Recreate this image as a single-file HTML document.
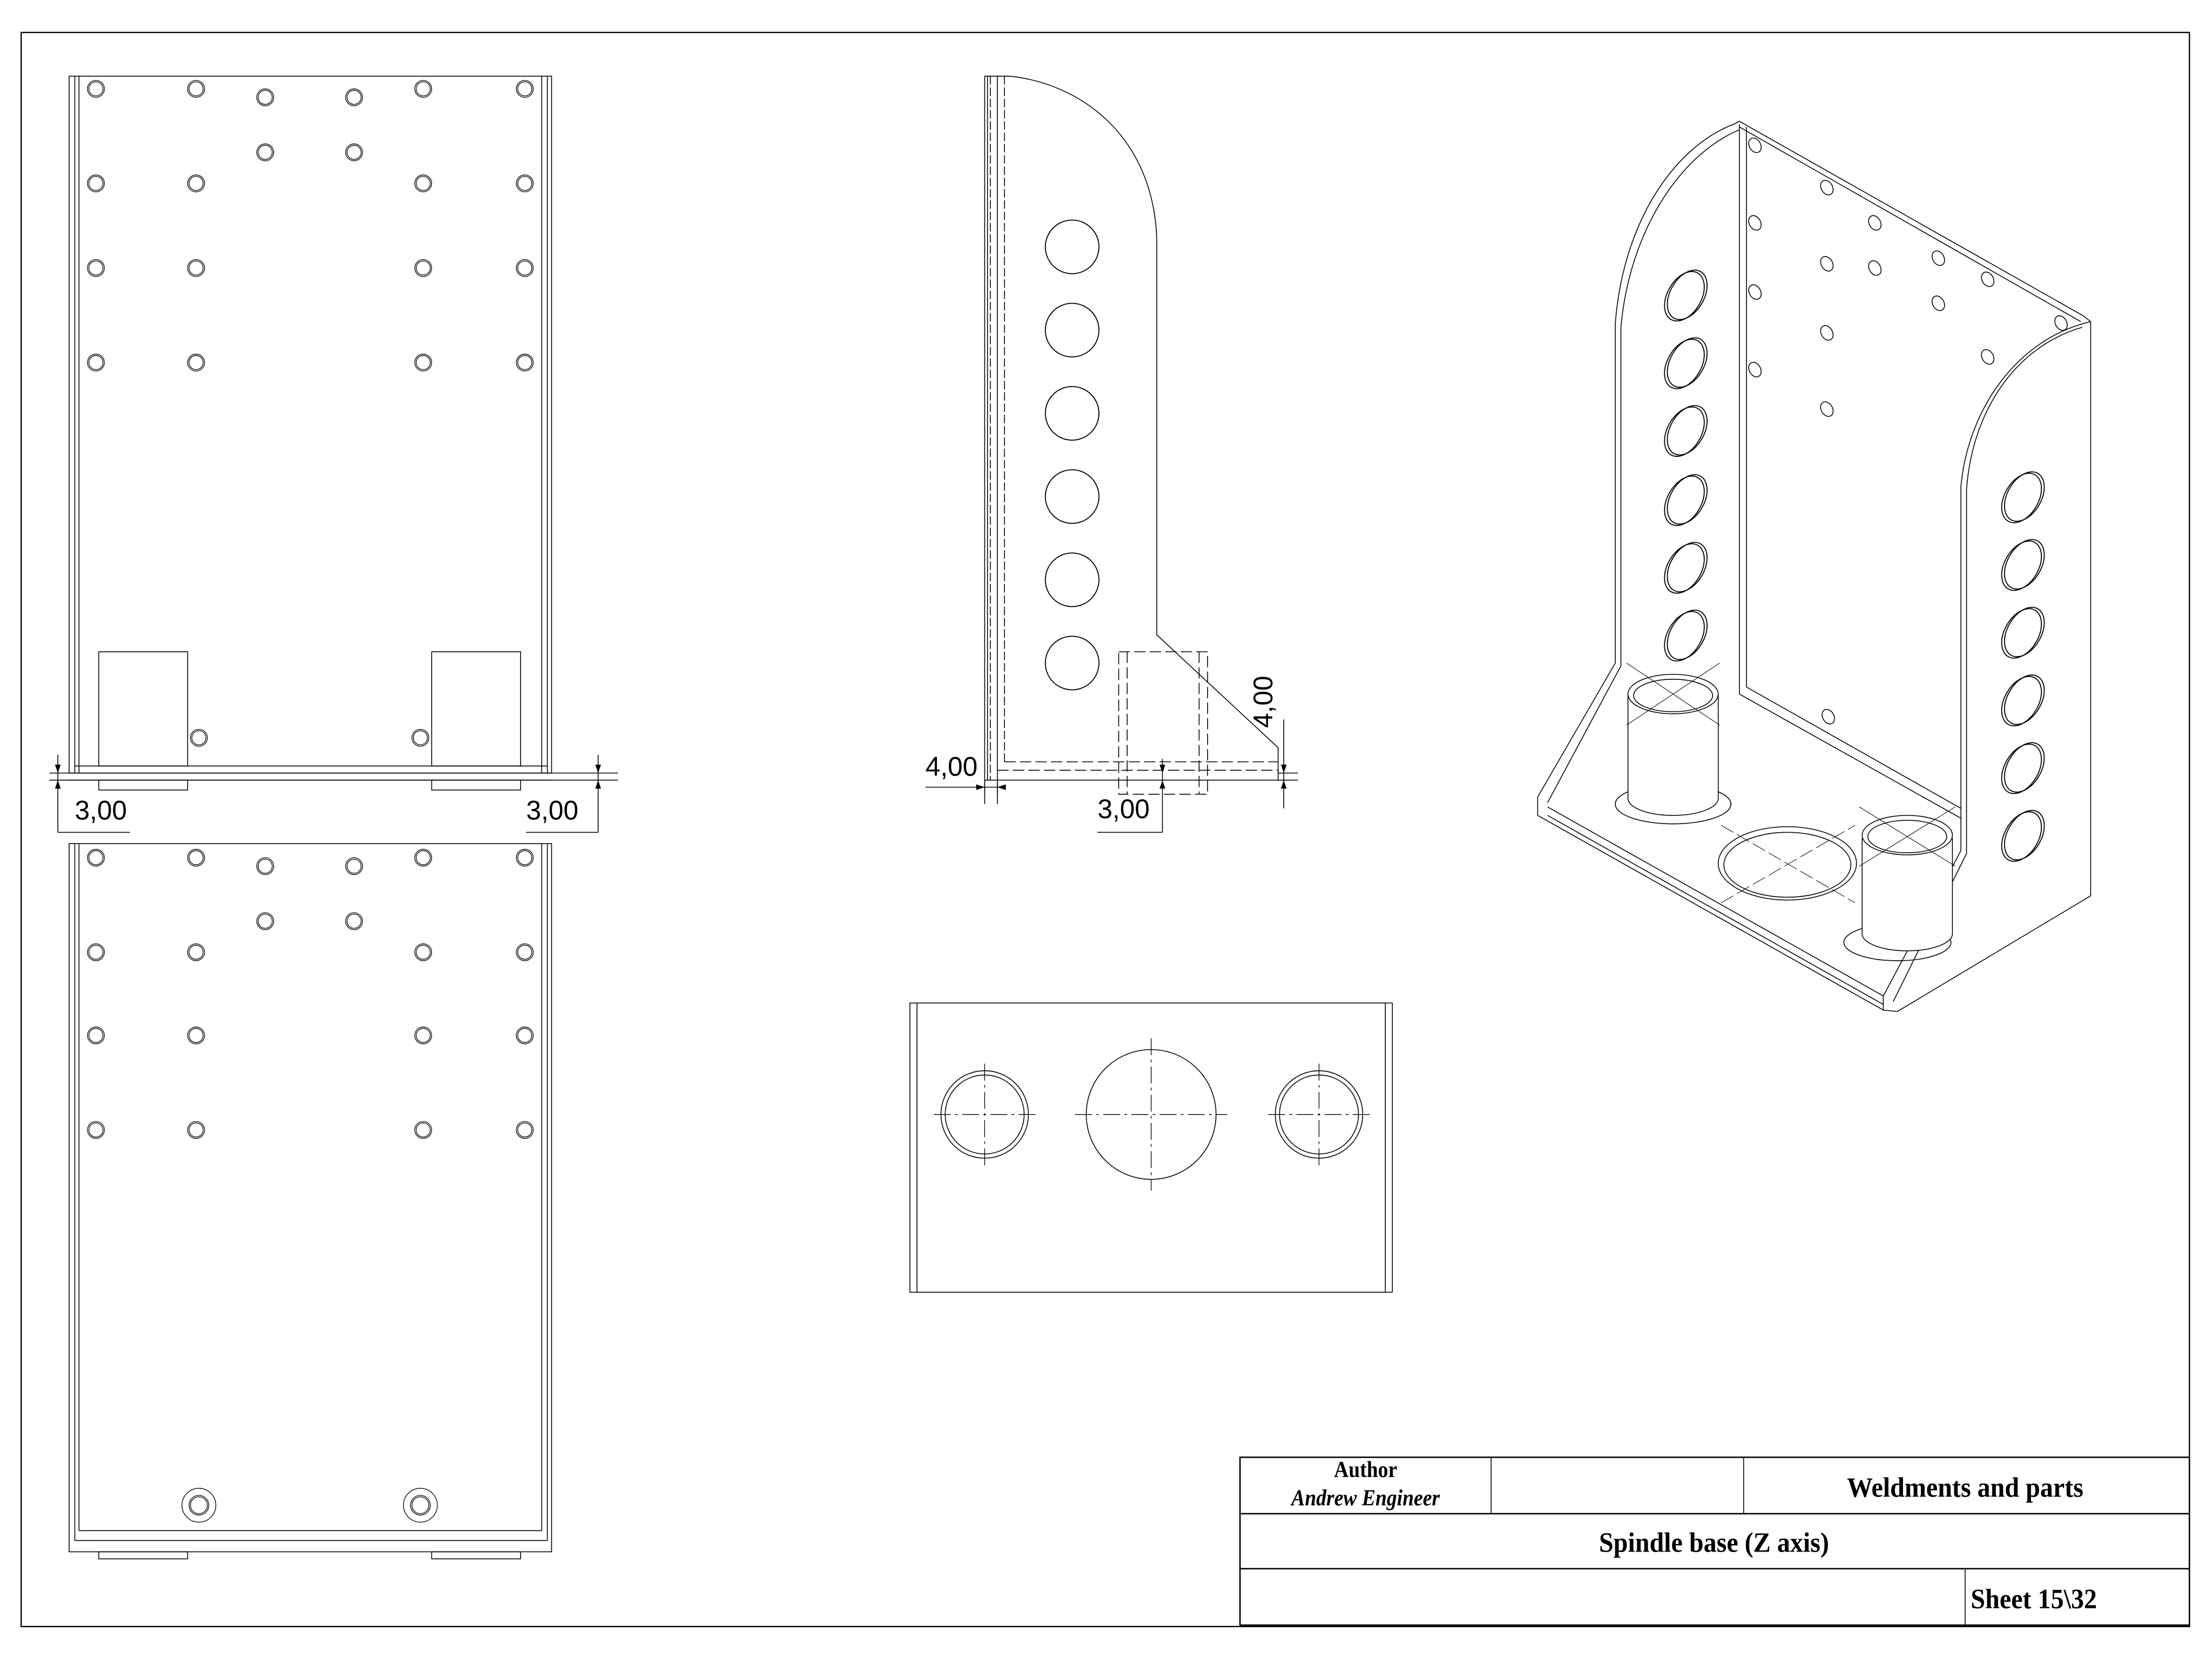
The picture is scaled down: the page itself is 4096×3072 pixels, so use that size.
<!DOCTYPE html>
<html><head><meta charset="utf-8"><style>
html,body{margin:0;padding:0;background:#fff;}
svg{display:block;}
text{font-family:"Liberation Sans",sans-serif;}
.s{font-family:"Liberation Serif",serif;font-weight:bold;}
</style></head><body>
<svg width="4096" height="3072" viewBox="0 0 1568 1176" xmlns="http://www.w3.org/2000/svg">
<defs>
<g id="h"><circle r="6"/><circle r="5"/></g>
</defs>
<g fill="none" stroke="#000" stroke-width="0.6">
<rect x="15" y="23" width="1537" height="1130" stroke-width="0.9"/>

<!-- ===== top-left view ===== -->
<rect x="49" y="54" width="342" height="494"/>
<line x1="53" y1="54" x2="53" y2="548"/><line x1="56" y1="54" x2="56" y2="548"/>
<line x1="384" y1="54" x2="384" y2="548"/><line x1="388" y1="54" x2="388" y2="548"/>
<line x1="53" y1="543" x2="388" y2="543"/>
<line x1="49" y1="553" x2="391" y2="553"/>
<rect x="70" y="462" width="63" height="81"/><rect x="306" y="462" width="63" height="81"/>
<rect x="70" y="553" width="63" height="7"/><rect x="306" y="553" width="63" height="7"/>
<g stroke-width="0.5">
<use href="#h" x="68" y="63"/><use href="#h" x="139" y="63"/><use href="#h" x="300" y="63"/><use href="#h" x="372" y="63"/>
<use href="#h" x="188" y="69"/><use href="#h" x="251" y="69"/><use href="#h" x="188" y="108"/><use href="#h" x="251" y="108"/>
<use href="#h" x="68" y="130"/><use href="#h" x="139" y="130"/><use href="#h" x="300" y="130"/><use href="#h" x="372" y="130"/>
<use href="#h" x="68" y="190"/><use href="#h" x="139" y="190"/><use href="#h" x="300" y="190"/><use href="#h" x="372" y="190"/>
<use href="#h" x="68" y="257"/><use href="#h" x="139" y="257"/><use href="#h" x="300" y="257"/><use href="#h" x="372" y="257"/>
<use href="#h" x="141" y="523"/><use href="#h" x="298" y="523"/>
</g>
<line x1="35" y1="548" x2="438" y2="548"/>
<line x1="35" y1="553" x2="438" y2="553"/>
<line x1="41" y1="535" x2="41" y2="590"/><line x1="41" y1="590" x2="92" y2="590"/>
<line x1="424" y1="535" x2="424" y2="590"/><line x1="373" y1="590" x2="424" y2="590"/>
<g fill="#000" stroke="none">
<polygon points="39,542 43,542 41,548"/><polygon points="39,559 43,559 41,553"/>
<polygon points="422,542 426,542 424,548"/><polygon points="422,559 426,559 424,553"/>
</g>

<!-- ===== bottom-left view ===== -->
<rect x="49" y="598" width="342" height="502"/>
<line x1="53" y1="598" x2="53" y2="1092"/><line x1="56" y1="598" x2="56" y2="1085"/>
<line x1="384" y1="598" x2="384" y2="1085"/><line x1="388" y1="598" x2="388" y2="1092"/>
<line x1="56" y1="1085" x2="384" y2="1085"/>
<line x1="53" y1="1092" x2="388" y2="1092"/>
<rect x="70" y="1100" width="63" height="5"/><rect x="306" y="1100" width="63" height="5"/>
<g stroke-width="0.5">
<use href="#h" x="68" y="608"/><use href="#h" x="139" y="608"/><use href="#h" x="300" y="608"/><use href="#h" x="372" y="608"/>
<use href="#h" x="188" y="614"/><use href="#h" x="251" y="614"/><use href="#h" x="188" y="653"/><use href="#h" x="251" y="653"/>
<use href="#h" x="68" y="675"/><use href="#h" x="139" y="675"/><use href="#h" x="300" y="675"/><use href="#h" x="372" y="675"/>
<use href="#h" x="68" y="734"/><use href="#h" x="139" y="734"/><use href="#h" x="300" y="734"/><use href="#h" x="372" y="734"/>
<use href="#h" x="68" y="801"/><use href="#h" x="139" y="801"/><use href="#h" x="300" y="801"/><use href="#h" x="372" y="801"/>
<circle cx="141" cy="1067" r="12"/><circle cx="141" cy="1067" r="7"/><circle cx="141" cy="1067" r="6"/>
<circle cx="298" cy="1067" r="12"/><circle cx="298" cy="1067" r="7"/><circle cx="298" cy="1067" r="6"/>
</g>

<!-- ===== side view ===== -->
<line x1="698" y1="54" x2="698" y2="563"/><line x1="700" y1="54" x2="700" y2="553"/>
<line x1="707" y1="54" x2="707" y2="563"/>
<line x1="712" y1="54" x2="712" y2="540" stroke-dasharray="6,2"/>
<line x1="702" y1="54" x2="702" y2="553" stroke-dasharray="6,2"/>
<path d="M698,54 H716 C770,60 818,100 820,170 V450 L906,530 V553 H698"/>
<g stroke-width="0.7">
<circle cx="760" cy="175" r="19"/><circle cx="760" cy="234" r="19"/><circle cx="760" cy="293" r="19"/>
<circle cx="760" cy="352" r="19"/><circle cx="760" cy="411" r="19"/><circle cx="760" cy="470" r="19"/>
</g>
<g stroke-dasharray="8,3">
<rect x="793" y="462" width="63" height="101"/>
<line x1="799" y1="462" x2="799" y2="563"/><line x1="850" y1="462" x2="850" y2="563"/>
<line x1="712" y1="540" x2="906" y2="540"/><line x1="707" y1="546" x2="906" y2="546"/>
</g>
<line x1="656" y1="558" x2="712" y2="558"/>
<line x1="698" y1="553" x2="698" y2="570"/><line x1="707" y1="553" x2="707" y2="570"/>
<line x1="824" y1="538" x2="824" y2="590"/><line x1="778" y1="590" x2="824" y2="590"/>
<line x1="906" y1="548" x2="920" y2="548"/><line x1="906" y1="553" x2="920" y2="553"/>
<line x1="910" y1="510" x2="910" y2="573"/>
<g fill="#000" stroke="none">
<polygon points="692,556 692,560 698,558"/><polygon points="713,556 713,560 707,558"/>
<polygon points="822,542 826,542 824,548"/><polygon points="822,559 826,559 824,553"/>
<polygon points="908,542 912,542 910,548"/><polygon points="908,559 912,559 910,553"/>
</g>

<!-- ===== bottom-center view ===== -->
<rect x="645" y="711" width="342" height="205"/>
<line x1="650" y1="711" x2="650" y2="916"/><line x1="982" y1="711" x2="982" y2="916"/>
<circle cx="698" cy="790" r="31"/><circle cx="698" cy="790" r="28"/>
<circle cx="935" cy="790" r="31"/><circle cx="935" cy="790" r="28"/>
<circle cx="816" cy="790" r="46"/>
<g stroke-width="0.5" stroke-dasharray="12,3,2,3">
<line x1="662" y1="790" x2="734" y2="790"/><line x1="698" y1="754" x2="698" y2="826"/>
<line x1="899" y1="790" x2="971" y2="790"/><line x1="935" y1="754" x2="935" y2="826"/>
<line x1="762" y1="790" x2="870" y2="790"/><line x1="816" y1="736" x2="816" y2="844"/>
</g>

<!-- ===== iso view ===== -->
<path d="M1229,88 L1233,86 L1477,224 L1482,228"/>
<line x1="1233" y1="90" x2="1475" y2="228"/>
<line x1="1233" y1="88" x2="1233" y2="492"/><line x1="1238" y1="90" x2="1238" y2="487"/>
<line x1="1233" y1="492" x2="1390" y2="580"/><line x1="1238" y1="487" x2="1390" y2="573"/>
<path d="M1229,88 C1185,105 1150,160 1145,230 V470 L1090,565"/>
<path d="M1233,92 C1190,110 1155,165 1149,232 V472 L1097,569"/>
<path d="M1090,565 V578 L1335,716 L1345,717"/>
<line x1="1097" y1="572" x2="1335" y2="706"/>
<line x1="1097" y1="578" x2="1335" y2="712"/>
<line x1="1335" y1="706" x2="1335" y2="716"/>
<path d="M1482,228 C1430,240 1395,290 1390,345 V603 L1335,706"/>
<path d="M1476,232 C1428,246 1398,292 1394,347 V605 L1342,710"/>
<path d="M1482,228 V635 L1345,717"/>
<g stroke-width="0.7">
<ellipse cx="1194" cy="210" rx="12" ry="19" transform="rotate(30 1194 210)"/><ellipse cx="1196" cy="209" rx="12" ry="19" transform="rotate(30 1196 209)"/>
<ellipse cx="1194" cy="258" rx="12" ry="19" transform="rotate(30 1194 258)"/><ellipse cx="1196" cy="257" rx="12" ry="19" transform="rotate(30 1196 257)"/>
<ellipse cx="1194" cy="306" rx="12" ry="19" transform="rotate(30 1194 306)"/><ellipse cx="1196" cy="305" rx="12" ry="19" transform="rotate(30 1196 305)"/>
<ellipse cx="1194" cy="355" rx="12" ry="19" transform="rotate(30 1194 355)"/><ellipse cx="1196" cy="354" rx="12" ry="19" transform="rotate(30 1196 354)"/>
<ellipse cx="1194" cy="403" rx="12" ry="19" transform="rotate(30 1194 403)"/><ellipse cx="1196" cy="402" rx="12" ry="19" transform="rotate(30 1196 402)"/>
<ellipse cx="1194" cy="451" rx="12" ry="19" transform="rotate(30 1194 451)"/><ellipse cx="1196" cy="450" rx="12" ry="19" transform="rotate(30 1196 450)"/>
<ellipse cx="1433" cy="353" rx="12" ry="19" transform="rotate(30 1433 353)"/><ellipse cx="1435" cy="352" rx="12" ry="19" transform="rotate(30 1435 352)"/>
<ellipse cx="1433" cy="401" rx="12" ry="19" transform="rotate(30 1433 401)"/><ellipse cx="1435" cy="400" rx="12" ry="19" transform="rotate(30 1435 400)"/>
<ellipse cx="1433" cy="449" rx="12" ry="19" transform="rotate(30 1433 449)"/><ellipse cx="1435" cy="448" rx="12" ry="19" transform="rotate(30 1435 448)"/>
<ellipse cx="1433" cy="497" rx="12" ry="19" transform="rotate(30 1433 497)"/><ellipse cx="1435" cy="496" rx="12" ry="19" transform="rotate(30 1435 496)"/>
<ellipse cx="1433" cy="545" rx="12" ry="19" transform="rotate(30 1433 545)"/><ellipse cx="1435" cy="544" rx="12" ry="19" transform="rotate(30 1435 544)"/>
<ellipse cx="1433" cy="593" rx="12" ry="19" transform="rotate(30 1433 593)"/><ellipse cx="1435" cy="592" rx="12" ry="19" transform="rotate(30 1435 592)"/>
</g>
<g stroke-width="0.6">
<ellipse cx="1244" cy="103" rx="4" ry="5.5" transform="rotate(-30 1244 103)"/>
<ellipse cx="1295" cy="133" rx="4" ry="5.5" transform="rotate(-30 1295 133)"/>
<ellipse cx="1244" cy="158" rx="4" ry="5.5" transform="rotate(-30 1244 158)"/>
<ellipse cx="1329" cy="158" rx="4" ry="5.5" transform="rotate(-30 1329 158)"/>
<ellipse cx="1295" cy="187" rx="4" ry="5.5" transform="rotate(-30 1295 187)"/>
<ellipse cx="1329" cy="190" rx="4" ry="5.5" transform="rotate(-30 1329 190)"/>
<ellipse cx="1374" cy="183" rx="4" ry="5.5" transform="rotate(-30 1374 183)"/>
<ellipse cx="1409" cy="198" rx="4" ry="5.5" transform="rotate(-30 1409 198)"/>
<ellipse cx="1374" cy="215" rx="4" ry="5.5" transform="rotate(-30 1374 215)"/>
<ellipse cx="1244" cy="207" rx="4" ry="5.5" transform="rotate(-30 1244 207)"/>
<ellipse cx="1295" cy="236" rx="4" ry="5.5" transform="rotate(-30 1295 236)"/>
<ellipse cx="1409" cy="253" rx="4" ry="5.5" transform="rotate(-30 1409 253)"/>
<ellipse cx="1461" cy="229" rx="4" ry="5.5" transform="rotate(-30 1461 229)"/>
<ellipse cx="1244" cy="262" rx="4" ry="5.5" transform="rotate(-30 1244 262)"/>
<ellipse cx="1295" cy="290" rx="4" ry="5.5" transform="rotate(-30 1295 290)"/>
<ellipse cx="1296" cy="508" rx="4" ry="5.5" transform="rotate(-30 1296 508)"/>
</g>
<ellipse cx="1186" cy="570" rx="41" ry="14"/>
<path d="M1154,492 V566 A32,12 0 0 0 1218,566 V492" fill="#fff"/>
<ellipse cx="1186" cy="492" rx="32" ry="14" fill="#fff"/><ellipse cx="1186" cy="493" rx="28" ry="11.5"/>
<line x1="1153" y1="470" x2="1219" y2="514" stroke-width="0.4"/><line x1="1153" y1="514" x2="1219" y2="470" stroke-width="0.4"/>
<ellipse cx="1267" cy="612" rx="49" ry="26"/><ellipse cx="1267" cy="613" rx="45" ry="23"/>
<line x1="1220" y1="585" x2="1315" y2="640" stroke-width="0.4" stroke-dasharray="10,3"/>
<line x1="1220" y1="640" x2="1315" y2="585" stroke-width="0.4" stroke-dasharray="10,3"/>
<ellipse cx="1345" cy="668" rx="38" ry="13"/>
<path d="M1320,594 V662 A32,12 0 0 0 1384,662 V594" fill="#fff"/>
<ellipse cx="1352" cy="592" rx="32" ry="14" fill="#fff"/><ellipse cx="1352" cy="593" rx="28" ry="11.5"/>
<line x1="1318" y1="572" x2="1386" y2="614" stroke-width="0.4"/><line x1="1318" y1="614" x2="1386" y2="572" stroke-width="0.4"/>

<!-- ===== title block ===== -->
<rect x="879" y="1033" width="673" height="119" stroke-width="1"/>
<line x1="879" y1="1073" x2="1552" y2="1073" stroke-width="1"/>
<line x1="879" y1="1112" x2="1552" y2="1112" stroke-width="1"/>
<line x1="1057" y1="1033" x2="1057" y2="1073"/>
<line x1="1236" y1="1033" x2="1236" y2="1073"/>
<line x1="1393" y1="1112" x2="1393" y2="1152"/>
</g>

<g fill="#000" stroke="none">
<text x="53" y="581" font-size="19">3,00</text>
<text x="373" y="581" font-size="19">3,00</text>
<text x="656" y="550" font-size="19">4,00</text>
<text x="778" y="580" font-size="19">3,00</text>
<text x="0" y="0" font-size="19" transform="translate(902,516) rotate(-90)">4,00</text>
<text class="s" font-size="16" text-anchor="middle" transform="translate(968,1047) scale(0.9,1)">Author</text>
<text class="s" font-size="16" font-style="italic" text-anchor="middle" transform="translate(968,1067) scale(0.9,1)">Andrew Engineer</text>
<text class="s" font-size="20" text-anchor="middle" transform="translate(1393,1061) scale(0.92,1)">Weldments and parts</text>
<text class="s" font-size="20" text-anchor="middle" transform="translate(1215,1100) scale(0.92,1)">Spindle base (Z axis)</text>
<text class="s" font-size="20" transform="translate(1397,1140) scale(0.92,1)">Sheet  15\32</text>
</g>
</svg>
</body></html>
